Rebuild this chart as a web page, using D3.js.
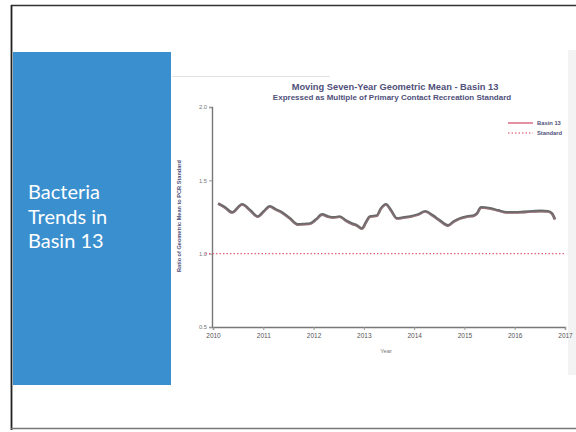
<!DOCTYPE html>
<html><head><meta charset="utf-8">
<script src="https://cdn.jsdelivr.net/npm/d3@7"></script>
<style>html,body{margin:0;padding:0;background:#fff;}svg{display:block;}</style>
</head><body>
<svg id="c" width="576" height="432"></svg>
<script>
const slideTitle = ["Bacteria", "Trends in", "Basin 13"];
const chartTitle = "Moving Seven-Year Geometric Mean - Basin 13";
const chartSubtitle = "Expressed as Multiple of Primary Contact Recreation Standard";
const yTitle = "Ratio of Geometric Mean to PCR Standard";
const xTitle = "Year";
const seriesNames = ["Basin 13", "Standard"];
const xTicks = [2010, 2011, 2012, 2013, 2014, 2015, 2016, 2017];
const yTicks = [0.5, 1.0, 1.5, 2.0];
const years = [
  2010.10,2010.24,2010.38,2010.58,2010.74,2010.89,2011.01,2011.13,2011.25,2011.37,
  2011.53,2011.69,2011.83,2011.93,2012.05,2012.17,2012.29,2012.41,2012.52,2012.64,
  2012.76,2012.86,2012.96,2013.04,2013.12,2013.26,2013.34,2013.44,2013.54,2013.66,
  2013.80,2013.92,2014.08,2014.22,2014.37,2014.51,2014.67,2014.79,2014.91,2015.05,
  2015.19,2015.25,2015.33,2015.51,2015.67,2015.84,2016.00,2016.18,2016.36,2016.52,
  2016.66,2016.74,2016.80];
const basinValues = [
  1.342,1.315,1.281,1.336,1.295,1.253,1.288,1.322,1.301,1.281,
  1.240,1.199,1.202,1.205,1.233,1.267,1.253,1.247,1.253,1.226,
  1.205,1.192,1.171,1.212,1.253,1.260,1.308,1.336,1.295,1.240,
  1.247,1.253,1.267,1.288,1.260,1.226,1.192,1.219,1.240,1.253,
  1.260,1.274,1.315,1.308,1.295,1.281,1.281,1.284,1.288,1.291,
  1.288,1.274,1.233];
const standardYears = [2009.85, 2017];
const standardValues = [1.0, 1.0];

const svg = d3.select("#c");

// Slide frame
svg.append("rect").attr("x",0).attr("y",0).attr("width",576).attr("height",432).attr("fill","#fff");
svg.append("line").attr("x1",11).attr("x2",576).attr("y1",5.5).attr("y2",5.5).attr("stroke","#333").attr("stroke-width",1.5);
svg.append("line").attr("x1",11.5).attr("x2",11.5).attr("y1",5).attr("y2",430).attr("stroke","#222").attr("stroke-width",1.8);
svg.append("line").attr("x1",11).attr("x2",576).attr("y1",428.5).attr("y2",428.5).attr("stroke","#777").attr("stroke-width",1.5);
svg.append("rect").attr("x",568).attr("y",50).attr("width",8).attr("height",325).attr("fill","#f3f3f3");
svg.append("line").attr("x1",172).attr("x2",330).attr("y1",76.5).attr("y2",76.5).attr("stroke","#e2e2e2").attr("stroke-width",1);

// Blue panel
svg.append("rect").attr("x",13).attr("y",52).attr("width",158).attr("height",333).attr("fill","#3a8fcf");
svg.append("g").selectAll("text").data(slideTitle).join("text")
  .attr("x",28).attr("y",(d,i)=>199+i*24.5)
  .attr("fill","#fff").attr("font-family","Lato, 'Open Sans', sans-serif").attr("font-weight",400)
  .attr("font-size",20).text(d=>d);

// Chart
const x = d3.scaleLinear().domain([2010,2017]).range([213,565]);
const y = d3.scaleLinear().domain([0.5,2.0]).range([327,107]);
const txt = "#50507a";

svg.append("text").attr("x",395).attr("y",90).attr("text-anchor","middle")
  .attr("font-family","Liberation Sans, Arial, sans-serif").attr("font-weight","bold").attr("font-size",9.3)
  .attr("fill",txt).text(chartTitle);
svg.append("text").attr("x",392).attr("y",100).attr("text-anchor","middle")
  .attr("font-family","Liberation Sans, Arial, sans-serif").attr("font-weight","bold").attr("font-size",8.0)
  .attr("fill",txt).text(chartSubtitle);

const yAxis = svg.append("g").attr("transform","translate(212,0)")
  .call(d3.axisLeft(y).tickValues(yTicks).tickFormat(d3.format(".1f")).tickSize(3).tickPadding(2));
const xAxis = svg.append("g").attr("transform","translate(0,327)")
  .call(d3.axisBottom(x).tickValues(xTicks).tickFormat(d3.format("d")).tickSize(3).tickPadding(3));
[yAxis, xAxis].forEach(g=>{
  g.select(".domain").attr("stroke","#777").attr("stroke-width",1.4);
  g.selectAll(".tick line").attr("stroke","#999");
  g.selectAll(".tick text").attr("fill","#777").attr("font-size",5.8)
   .attr("font-family","Liberation Sans, Arial, sans-serif");
});
xAxis.selectAll(".tick text").attr("font-size",6.5).attr("fill","#555");

svg.append("text").attr("transform","translate(181,216) rotate(-90)").attr("text-anchor","middle")
  .attr("font-family","Liberation Sans, Arial, sans-serif").attr("font-weight","bold").attr("font-size",5.6)
  .attr("fill",txt).text(yTitle);
svg.append("text").attr("x",386).attr("y",353).attr("text-anchor","middle")
  .attr("font-family","Liberation Sans, Arial, sans-serif").attr("font-size",5.8)
  .attr("fill","#777").text(xTitle);

// Standard line
const stdData = standardYears.map((d,i)=>[d,standardValues[i]]);
svg.append("path").datum(stdData)
  .attr("d", d3.line().x(d=>x(d[0])).y(d=>y(d[1])))
  .attr("fill","none").attr("stroke","#e0607a").attr("stroke-width",1.3).attr("stroke-dasharray","1.5,2");

// Basin line
const basinData = years.map((d,i)=>[d,basinValues[i]]);
const line = d3.line().x(d=>x(d[0])).y(d=>y(d[1])).curve(d3.curveMonotoneX);
svg.append("path").datum(basinData).attr("d",line)
  .attr("fill","none").attr("stroke","#505050").attr("stroke-width",2.8).attr("stroke-opacity",0.85)
  .attr("stroke-linejoin","round");
svg.append("path").datum(basinData).attr("d",line).attr("transform","translate(0,0.9)")
  .attr("fill","none").attr("stroke","#d4788a").attr("stroke-width",0.9).attr("stroke-opacity",0.5);

// Legend
const lg = svg.append("g").attr("transform","translate(508,123)");
lg.selectAll("line").data(seriesNames).join("line")
  .attr("x1",0).attr("x2",25).attr("y1",(d,i)=>i*10).attr("y2",(d,i)=>i*10)
  .attr("stroke",(d,i)=>i===0?"#d9637c":"#e87f92")
  .attr("stroke-width",(d,i)=>i===0?1.4:1.6)
  .attr("stroke-dasharray",(d,i)=>i===0?null:"1.5,2");
lg.selectAll("text").data(seriesNames).join("text")
  .attr("x",29).attr("y",(d,i)=>i*10+2)
  .attr("font-family","Liberation Sans, Arial, sans-serif").attr("font-weight","bold").attr("font-size",5.8)
  .attr("fill",txt).text(d=>d);
</script>
</body></html>
